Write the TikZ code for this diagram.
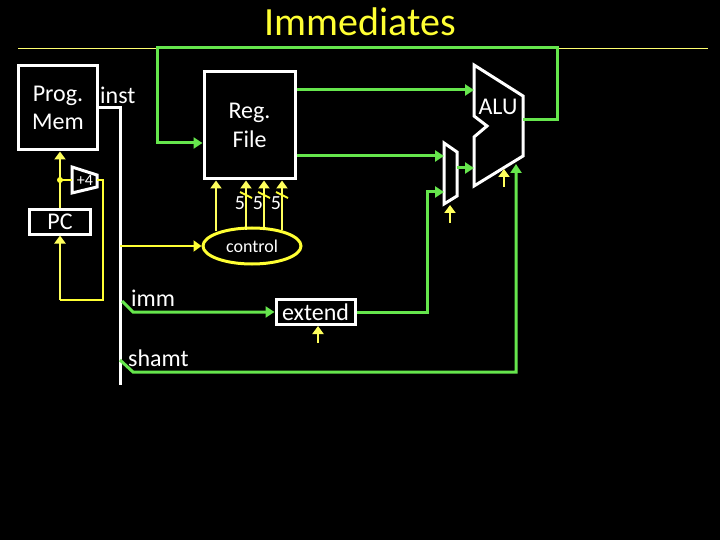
\documentclass[tikz,border=0pt]{standalone}
\usepackage{fontspec}
\setmainfont{Carlito}
\usepackage{xcolor}
\usetikzlibrary{shapes.geometric, arrows.meta, positioning}
\definecolor{wiregreen}{HTML}{66E64D}
\definecolor{wireyellow}{HTML}{FFFF33}

\begin{document}
\begin{tikzpicture}[
    x=1pt, y=-1pt,
    block/.style={draw=white, line width=3pt, fill=black, text=white, align=center, inner sep=0pt},
    lbl/.style={text=white, inner sep=0pt, font=\fontsize{24}{28}\selectfont, align=center},
    unit/.style={draw=white, line width=3pt, line join=miter},
    bus/.style={draw=white, line width=3pt},
    datawire/.style={draw=wiregreen, line width=3pt},
    data/.style={datawire, -{Triangle[length=9pt, width=11pt]}},
    ctlwire/.style={draw=wireyellow, line width=2.6pt},
    ctl/.style={draw=wireyellow!80!white, line width=2pt, -{Triangle[length=8pt, width=11pt]}}
]
\useasboundingbox[fill=black] (0,0) rectangle (720,540);

% Title
\node[text=wireyellow, font=\fontsize{40}{44}\selectfont, inner sep=0pt] (title) at (360,22) {Immediates};
\coordinate (ruleL) at (18,48);
\coordinate (ruleR) at (708,48);
\draw[wireyellow!70!white, line width=0.8pt] (ruleL) -- (ruleR);

% Blocks
\node[block, minimum width=79pt, minimum height=84pt] (mem) at (57.5,108) {};
\node[lbl, anchor=west] (memtxt) at (32,108) {Prog.\\Mem};
\node[lbl, anchor=west] (inst) at (100,95) {inst};
\node[block, minimum width=91pt, minimum height=107pt, font=\fontsize{24}{29}\selectfont] (reg) at (249.5,125.5) {Reg.\\File};
\node[block, minimum width=61pt, minimum height=24pt, font=\fontsize{24}{28}\selectfont] (pc) at (60,222) {PC};
\node[block, minimum width=79pt, minimum height=25pt, font=\fontsize{24}{28}\selectfont] (extend) at (315.5,312) {extend};
\node[ellipse, draw=wireyellow, line width=3pt, fill=black, text=white, minimum width=98pt, minimum height=36pt, inner sep=0pt, font=\fontsize{18}{20}\selectfont] (control) at (252,246) {control};

% Adder, mux, ALU
\draw[unit] (72,167) -- (97,175) -- (97,187) -- (72,193) -- cycle;
\node[text=white, inner sep=0pt, font=\fontsize{16}{18}\selectfont] (adder) at (85,180.5) {+4};
\draw[unit] (444,143) -- (457,152) -- (457,196) -- (444,204) -- cycle;
\draw[unit] (474,65) -- (523,96) -- (523,156) -- (474,186) -- (474,137) -- (487,126) -- (474,116) -- cycle;
\node[lbl] (alu) at (498,107) {ALU};

% Named points
\coordinate (adderin) at (72,180);
\coordinate (adderout) at (97,180);
\coordinate (tap) at (60,180);
\coordinate (muxup) at (444,156);
\coordinate (muxlow) at (444,192);
\coordinate (muxout) at (457,168);
\coordinate (aluup) at (474,90);
\coordinate (alulow) at (474,168);
\coordinate (aluout) at (523,120);
\coordinate (alushamt) at (516,164);
\coordinate (busjoin) at (120,108);
\coordinate (busend) at (120,385);
\coordinate (immfrom) at (122,301);
\coordinate (shamtfrom) at (120,360);

% Instruction bus
\draw[bus] (mem.east |- busjoin) -- (busjoin) -- (busend);
\node[lbl, anchor=west] (imm) at (131,298) {imm};
\node[lbl, anchor=west] (shamt) at (128,358) {shamt};

% Data wires
\draw[data] (aluout) -- (557,120) -- (557,48) -- (157,48) -- (157,143) -- (reg.west |- 0,143);
\draw[data] (reg.east |- aluup) -- (aluup);
\draw[data] (reg.east |- muxup) -- (muxup);
\draw[data] (muxout) -- (alulow);
\draw[data] (immfrom) -- (133,312) -- (extend.west);
\draw[data] (extend.east) -- (427,312) -- (427,192) -- (muxlow);
\draw[data] (shamtfrom) -- (133,372) -- (516,372) -- (alushamt);

% Control wires
\draw[ctl] (pc.north) -- (pc.north |- mem.south);
\draw[ctlwire] (tap) -- (adderin);
\fill[wireyellow] (tap) circle (3pt);
\draw[ctlwire] (adderout) -- (103,180) -- (103,300) -- (60,300);
\draw[ctl] (60,300) -- (pc.south);
\draw[ctlwire, -{Triangle[length=8pt, width=11pt]}] (busjoin |- control.west) -- (control.west);

% Register selects
\foreach \sx/\sname in {246/a, 264/b, 282/c} {
    \coordinate (sel\sname) at (\sx,230);
    \draw[ctl] (sel\sname) -- (reg.south -| sel\sname);
    \draw[wireyellow, line width=2pt] (\sx-6,192) -- (\sx+6,198);
    \node[text=white, inner sep=0pt, font=\fontsize{20}{20}\selectfont] (num\sname) at (\sx-6,203) {5};
}
\coordinate (selw) at (216,231);
\draw[ctl] (selw) -- (reg.south -| selw);

% Unit controls
\coordinate (aluctl) at (504,187);
\coordinate (muxctl) at (450,223);
\coordinate (extctl) at (318,343);
\draw[ctl] (aluctl) -- (504,169);
\draw[ctl] (muxctl) -- (450,205);
\draw[ctl] (extctl) -- (extend.south -| extctl);
\end{tikzpicture}
\end{document}
